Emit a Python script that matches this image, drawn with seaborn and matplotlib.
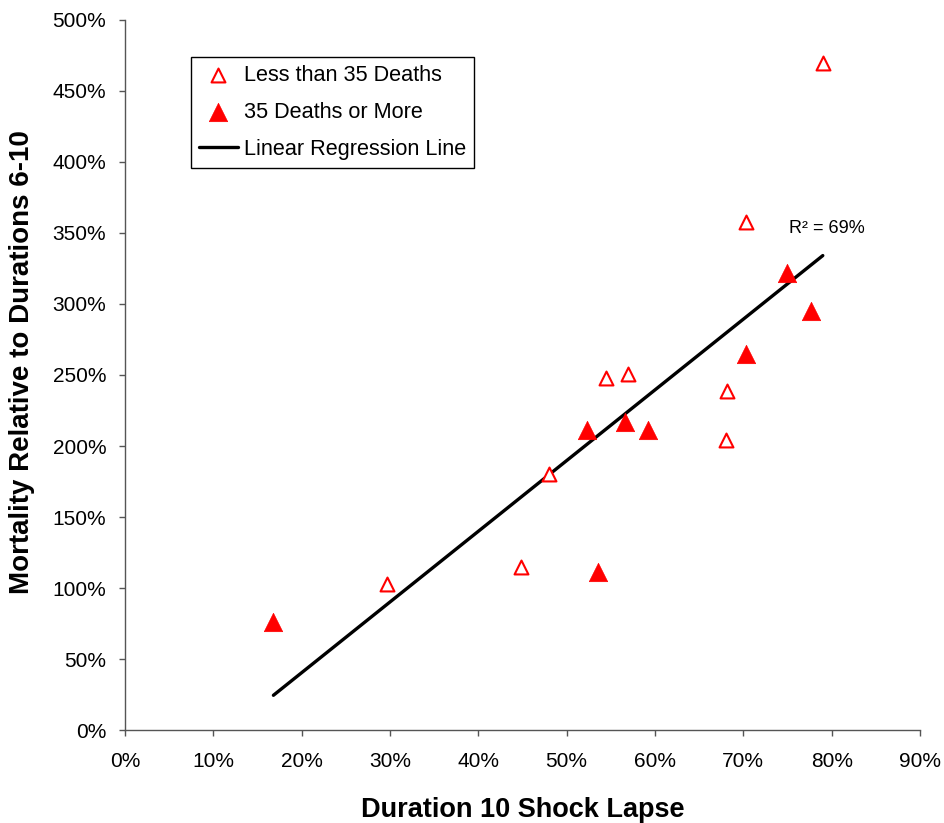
import matplotlib
matplotlib.use("Agg")
import matplotlib.pyplot as plt
from matplotlib.ticker import PercentFormatter
import numpy as np
import pandas as pd
import seaborn as sns

# Duration 10 shock lapse (%) and mortality relative to durations 6-10 (%)
small_lapse = [79.0, 70.3, 54.5, 56.9, 68.1, 68.0, 48.0, 44.8, 29.7]
small_mort = [470, 358, 248, 251, 239, 204, 180, 115, 103]

large_lapse = [16.8, 52.3, 56.6, 59.2, 53.6, 70.3, 74.9, 77.7]
large_mort = [76, 211, 217, 211, 111, 265, 322, 295]

x_ticks = [0, 10, 20, 30, 40, 50, 60, 70, 80, 90]
y_ticks = [0, 50, 100, 150, 200, 250, 300, 350, 400, 450, 500]
r_squared_label = "R\u00b2 = 69%"

small = pd.DataFrame({"lapse": small_lapse, "mort": small_mort})
large = pd.DataFrame({"lapse": large_lapse, "mort": large_mort})
combined = pd.concat([small, large], ignore_index=True)

sns.set_theme(style="ticks")
plt.rcParams["font.family"] = ["Liberation Sans", "DejaVu Sans"]
plt.rcParams["text.color"] = "black"
plt.rcParams["axes.labelcolor"] = "black"

fig = plt.figure(figsize=(9.45, 8.23), dpi=100)
ax = fig.add_axes([0.1323, 0.1130, 0.8412, 0.8627])

red = "#FF0000"
sns.scatterplot(data=small, x="lapse", y="mort", ax=ax, marker="^", s=100,
                facecolor="white", edgecolor=red, linewidth=1.5,
                label="Less than 35 Deaths", zorder=3)
sns.scatterplot(data=large, x="lapse", y="mort", ax=ax, marker="^", s=175,
                color=red, edgecolor=red, linewidth=0.5,
                label="35 Deaths or More", zorder=3)
sns.regplot(data=combined, x="lapse", y="mort", ax=ax, scatter=False,
            ci=None, truncate=True, color="black",
            label="Linear Regression Line",
            line_kws={"linewidth": 2.4, "zorder": 2})

ax.set_xlim(0, 90)
ax.set_ylim(0, 500)
ax.set_xticks(x_ticks)
ax.set_yticks(y_ticks)
ax.xaxis.set_major_formatter(PercentFormatter(xmax=100, decimals=0))
ax.yaxis.set_major_formatter(PercentFormatter(xmax=100, decimals=0))

ax.tick_params(axis="both", direction="out", length=4.5, width=1,
               color="#555555", labelsize=15, labelcolor="black")
ax.tick_params(axis="x", pad=11)
ax.tick_params(axis="y", pad=9)
for side in ["top", "right"]:
    ax.spines[side].set_visible(False)
for side in ["left", "bottom"]:
    ax.spines[side].set_color("#555555")
    ax.spines[side].set_linewidth(1)

ax.set_xlabel("Duration 10 Shock Lapse", fontsize=19.5, fontweight="bold",
              labelpad=19)
ax.set_ylabel("Mortality Relative to Durations 6-10", fontsize=20,
              fontweight="bold")
ax.yaxis.set_label_coords(-0.113, 0.518)

ax.text(79.5, 353, r_squared_label, fontsize=13, ha="center", va="center",
        color="black")

handles, labels = ax.get_legend_handles_labels()
order = ["Less than 35 Deaths", "35 Deaths or More", "Linear Regression Line"]
handles = [handles[labels.index(name)] for name in order]
leg = ax.legend(handles, order, loc="upper left",
                bbox_to_anchor=(0.083, 0.948),
                borderaxespad=0, fontsize=15.6, frameon=True, fancybox=False,
                edgecolor="black", handlelength=1.8, handletextpad=0.3,
                labelspacing=0.75, borderpad=0.35)
leg.get_frame().set_linewidth(1)
leg.get_frame().set_alpha(1)

fig.savefig("out.png", dpi=100, facecolor="white")
